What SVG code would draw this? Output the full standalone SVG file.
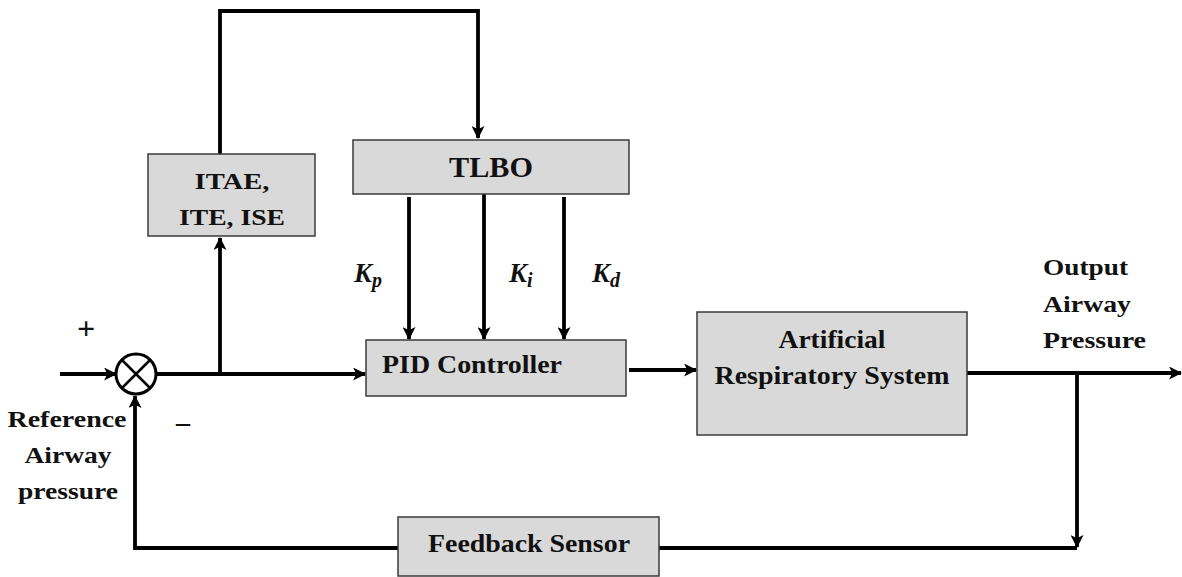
<svg xmlns="http://www.w3.org/2000/svg" width="1182" height="577" viewBox="0 0 1182 577">
<style>
.box{fill:#d9d9d9;stroke:#3a3a3a;stroke-width:1.5}
.ln{fill:none;stroke:#000;stroke-width:3.8}
text{font-family:'Liberation Serif','DejaVu Serif',serif;font-weight:bold;fill:#111}
.k{font-style:italic}
</style>
<defs>
<marker id="ah" viewBox="0 0 12 12" refX="11" refY="6" markerWidth="14" markerHeight="13" markerUnits="userSpaceOnUse" orient="auto">
<path d="M0,0 L12,6 L0,12 L3,6 Z" fill="#000"/>
</marker>
</defs>
<rect width="1182" height="577" fill="#fff"/>
<g id="connectors">
<path class="ln" d="M60,374 L116,374" marker-end="url(#ah)"/>
<path class="ln" d="M157,374 L365,374" marker-end="url(#ah)" style="stroke-width:4.2"/>
<path class="ln" d="M220,374 L220,238" marker-end="url(#ah)"/>
<path class="ln" d="M220,154 L220,11 L478,11 L478,138" marker-end="url(#ah)"/>
<path class="ln" d="M409,197 L409,339" marker-end="url(#ah)"/>
<path class="ln" d="M484,194 L484,339" marker-end="url(#ah)"/>
<path class="ln" d="M564,197 L564,339" marker-end="url(#ah)"/>
<path class="ln" d="M629,370 L696,370" marker-end="url(#ah)"/>
<path class="ln" d="M967,373 L1181,373" marker-end="url(#ah)"/>
<path class="ln" d="M1077,373 L1077,547" marker-end="url(#ah)"/>
<path class="ln" d="M1077,548 L135,548 L135,396" marker-end="url(#ah)"/>
</g>
<g id="sum">
<circle cx="136" cy="374" r="20" fill="#fff" stroke="#000" stroke-width="3"/>
<path d="M122,360 L150,388 M150,360 L122,388" stroke="#000" stroke-width="2.5"/>
</g>
<g id="itae">
<rect class="box" x="148" y="154" width="167" height="82"/>
<text x="232" y="189" font-size="24" text-anchor="middle" textLength="75" lengthAdjust="spacingAndGlyphs">ITAE,</text>
<text x="232" y="225" font-size="24" text-anchor="middle" textLength="106" lengthAdjust="spacingAndGlyphs">ITE, ISE</text>
</g>
<g id="tlbo">
<rect class="box" x="353" y="140" width="276" height="54"/>
<text x="491" y="177" font-size="30" text-anchor="middle" textLength="84" lengthAdjust="spacingAndGlyphs">TLBO</text>
</g>
<g id="pid">
<rect class="box" x="366" y="340" width="260" height="56"/>
<text x="382" y="373" font-size="25" textLength="180" lengthAdjust="spacingAndGlyphs">PID Controller</text>
</g>
<g id="ars">
<rect class="box" x="697" y="312" width="270" height="123"/>
<text x="832" y="348" font-size="25" text-anchor="middle" textLength="107" lengthAdjust="spacingAndGlyphs">Artificial</text>
<text x="832" y="384" font-size="25" text-anchor="middle" textLength="235" lengthAdjust="spacingAndGlyphs">Respiratory System</text>
</g>
<g id="feedback">
<rect class="box" x="398" y="517" width="261" height="59"/>
<text x="529" y="552" font-size="26" text-anchor="middle" textLength="202" lengthAdjust="spacingAndGlyphs">Feedback Sensor</text>
</g>
<g id="labels">
<text x="86" y="339" font-size="32" text-anchor="middle">+</text>
<text x="183" y="431" font-size="28" text-anchor="middle">–</text>
<text x="67" y="427" font-size="24" text-anchor="middle" textLength="119" lengthAdjust="spacingAndGlyphs">Reference</text>
<text x="68" y="463" font-size="24" text-anchor="middle" textLength="87" lengthAdjust="spacingAndGlyphs">Airway</text>
<text x="68" y="499" font-size="24" text-anchor="middle" textLength="100" lengthAdjust="spacingAndGlyphs">pressure</text>
<text x="1043" y="275" font-size="24" textLength="85" lengthAdjust="spacingAndGlyphs">Output</text>
<text x="1043" y="312" font-size="24" textLength="88" lengthAdjust="spacingAndGlyphs">Airway</text>
<text x="1043" y="348" font-size="24" textLength="103" lengthAdjust="spacingAndGlyphs">Pressure</text>
<text class="k" x="354" y="282" font-size="27">K<tspan font-size="20" dy="5">p</tspan></text>
<text class="k" x="509" y="282" font-size="27">K<tspan font-size="20" dy="5">i</tspan></text>
<text class="k" x="592" y="282" font-size="27">K<tspan font-size="20" dy="5">d</tspan></text>
</g>
</svg>
